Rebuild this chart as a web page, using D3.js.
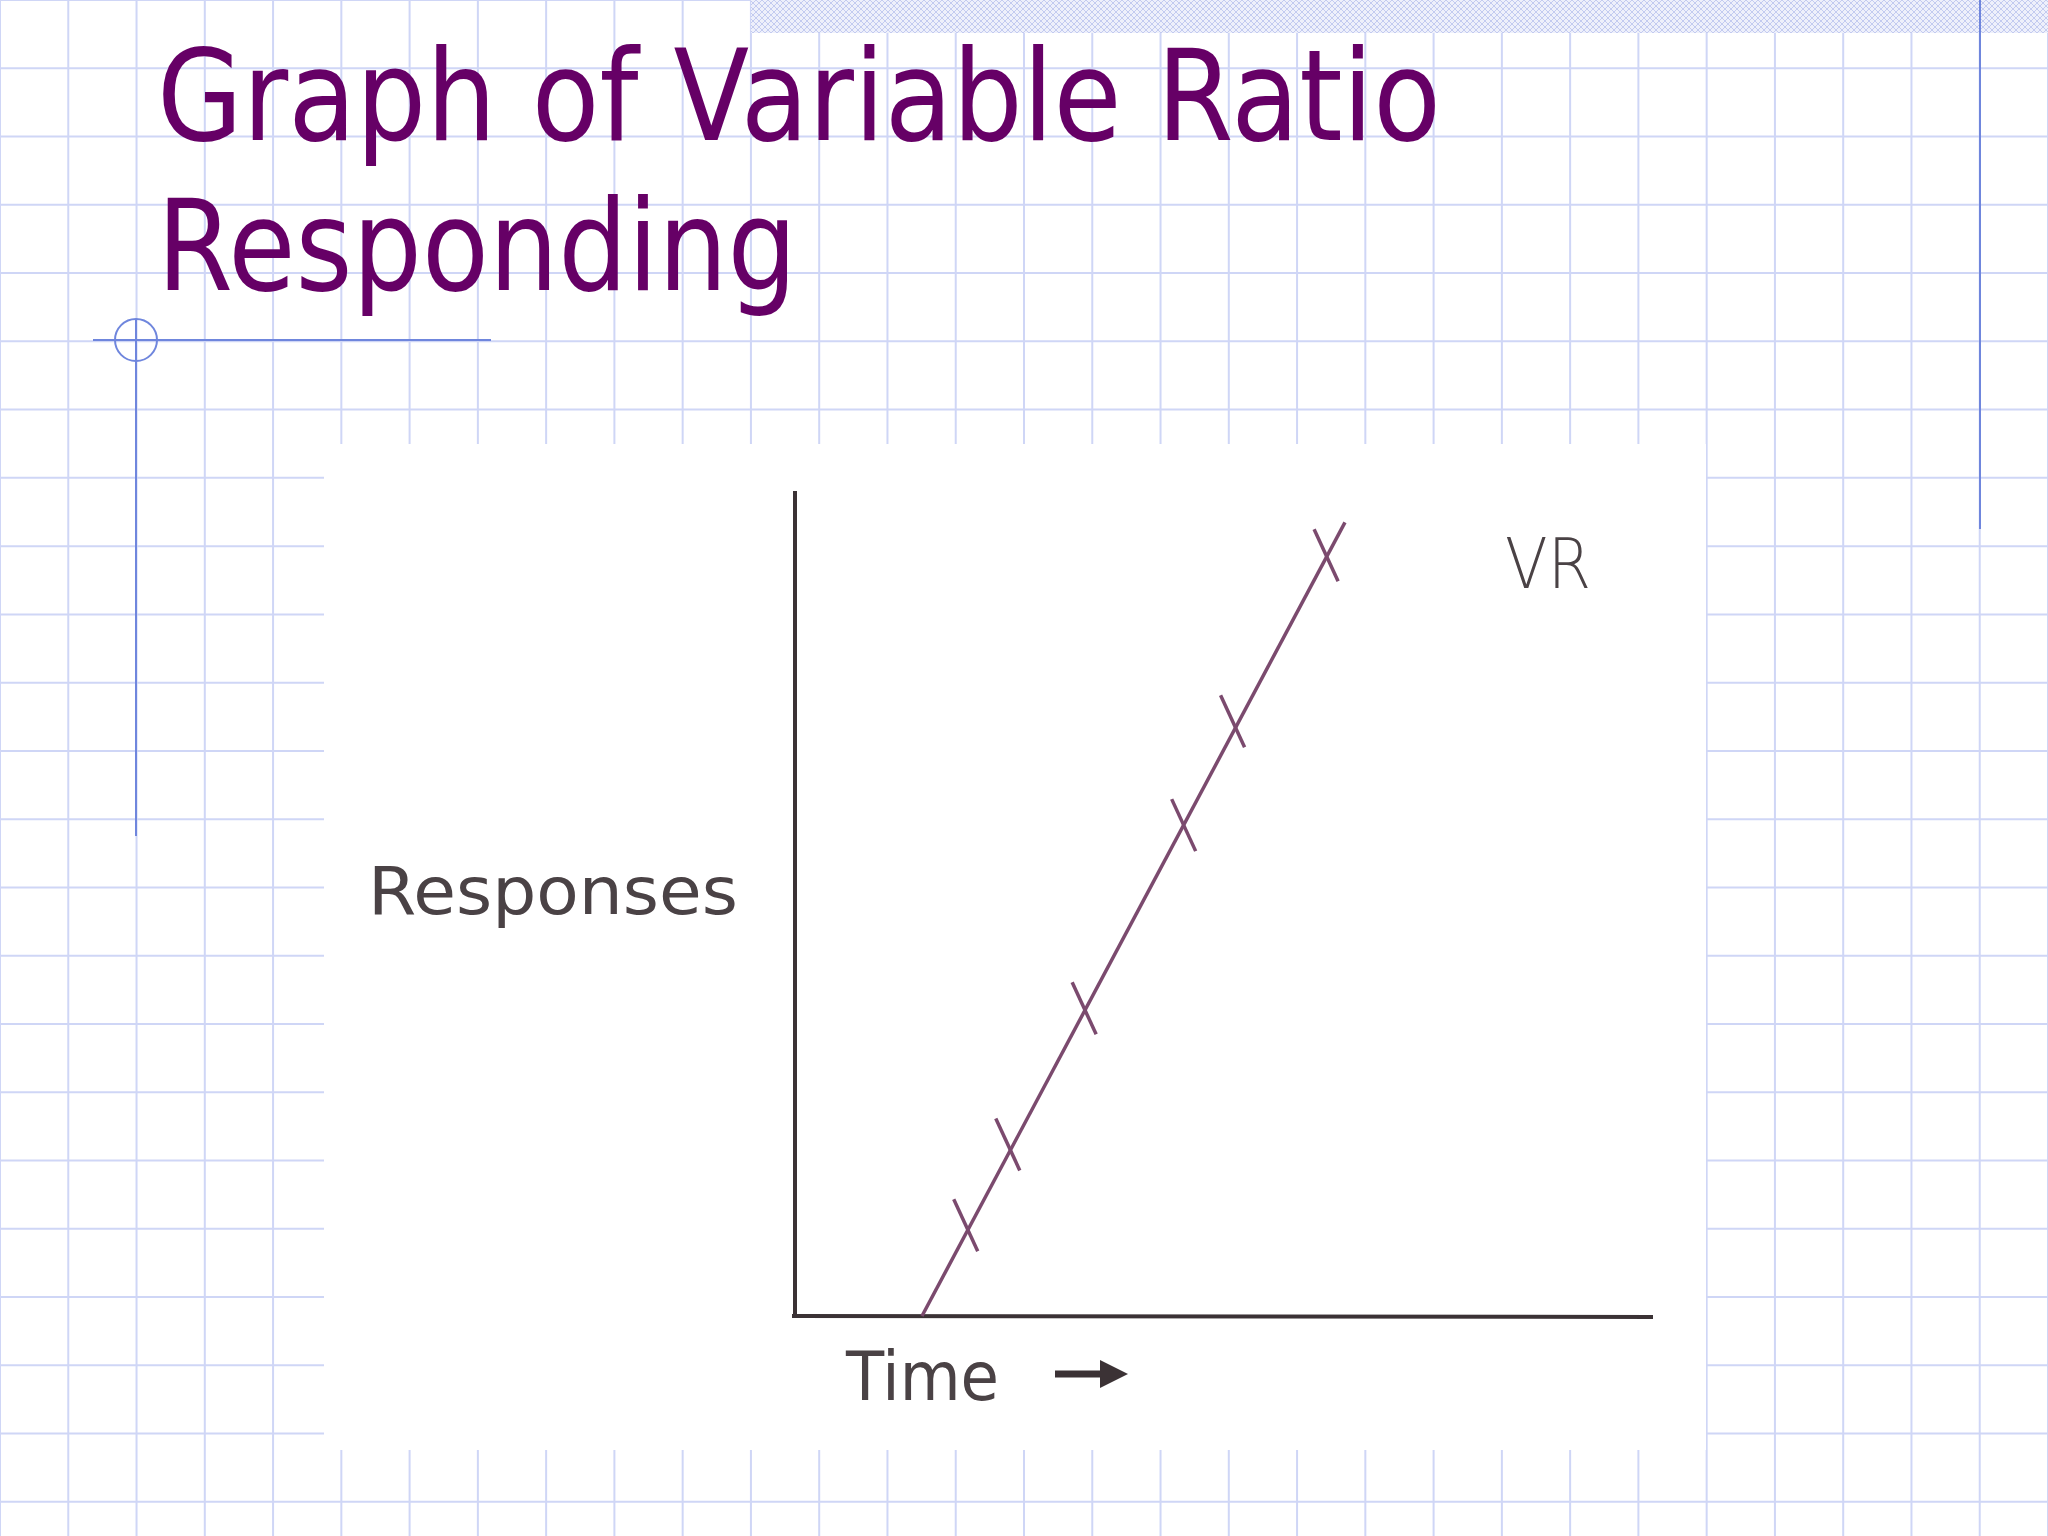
<!DOCTYPE html>
<html><head><meta charset="utf-8">
<script src="https://cdn.jsdelivr.net/npm/d3@7"></script>
<style>body{margin:0;background:#fff}svg{display:block}</style>
</head><body>
<script>
const titleLines = ["Graph of Variable Ratio", "Responding"];
const lineStart = [14.8, 0];
const lineEnd = [64.1, 96.2];
const markX = [19.9, 24.8, 33.7, 45.3, 51.0, 61.9];
const markY = [11.0, 20.8, 37.3, 59.5, 72.1, 92.2];
const yLabel = "Responses", xLabel = "Time", seriesLabel = "VR";

const W = 2048, H = 1536;
const svg = d3.select("body").append("svg").attr("width", W).attr("height", H);
const defs = svg.append("defs");
const pat = defs.append("pattern").attr("id","hatch").attr("width",6).attr("height",6).attr("patternUnits","userSpaceOnUse");
pat.append("rect").attr("width",6).attr("height",6).attr("fill","#eef0fb");
pat.append("path").attr("d","M0,0L6,6M6,0L0,6").attr("stroke","#b8c2ee").attr("stroke-width",0.8);

// background grid
const g = 2048/30;
for (let i = 0; i <= 30; i++) svg.append("line").attr("x1", i*g).attr("x2", i*g).attr("y1",0).attr("y2",H).attr("stroke","#cfd6f6").attr("stroke-width",2);
for (let j = 0; j <= 23; j++) svg.append("line").attr("y1", j*g).attr("y2", j*g).attr("x1",0).attr("x2",W).attr("stroke","#cfd6f6").attr("stroke-width",2);
svg.append("rect").attr("x",751).attr("y",0).attr("width",W-751).attr("height",33).attr("fill","url(#hatch)");
svg.append("line").attr("x1",1980).attr("x2",1980).attr("y1",0).attr("y2",529).attr("stroke","#6f86dd").attr("stroke-width",2);
// bullet decoration
svg.append("line").attr("x1",93).attr("x2",491).attr("y1",340).attr("y2",340).attr("stroke","#6f86dd").attr("stroke-width",2);
svg.append("line").attr("x1",136).attr("x2",136).attr("y1",320).attr("y2",836).attr("stroke","#6f86dd").attr("stroke-width",2);
svg.append("circle").attr("cx",136).attr("cy",340).attr("r",21).attr("fill","none").attr("stroke","#6f86dd").attr("stroke-width",2);

// title
titleLines.forEach((t,i)=>{
  svg.append("text").attr("x",157).attr("y",[140,290][i]).text(t)
    .attr("font-family","DejaVu Sans").attr("font-size",126).attr("fill","#660066")
    .attr("textLength", i===0?1284:640).attr("lengthAdjust","spacingAndGlyphs");
});

// white panel
svg.append("rect").attr("x",324).attr("y",444).attr("width",1382).attr("height",1006).attr("fill","#fff");

const x = d3.scaleLinear().domain([0,100]).range([795,1653]);
const y = d3.scaleLinear().domain([0,100]).range([1316,491]);
const ink = "#3b3235";
svg.append("line").attr("x1",x(0)).attr("x2",x(0)).attr("y1",y(0)).attr("y2",y(100)).attr("stroke",ink).attr("stroke-width",4);
svg.append("line").attr("x1",x(0)-3).attr("x2",x(100)).attr("y1",y(0)).attr("y2",y(0)+1).attr("stroke",ink).attr("stroke-width",4);

const lc = "#7b4a6e";
svg.append("line").attr("x1",x(lineStart[0])).attr("y1",y(lineStart[1])).attr("x2",x(lineEnd[0])).attr("y2",y(lineEnd[1])).attr("stroke",lc).attr("stroke-width",3.5);
// cross marks (stroke crossing the line)
markX.forEach((mx,i)=>{
  const cx = x(mx), cy = y(markY[i]);
  svg.append("line").attr("x1",cx-12).attr("y1",cy-26).attr("x2",cx+12).attr("y2",cy+26).attr("stroke",lc).attr("stroke-width",3.5);
});

svg.append("text").attr("x",368).attr("y",914).text(yLabel).attr("font-family","DejaVu Sans").attr("font-size",66)
  .attr("fill","#4a4245").attr("textLength",370).attr("lengthAdjust","spacingAndGlyphs");
svg.append("text").attr("x",846).attr("y",1400).text(xLabel).attr("font-family","DejaVu Sans").attr("font-size",68)
  .attr("fill","#4a4245").attr("textLength",153).attr("lengthAdjust","spacingAndGlyphs");
svg.append("line").attr("x1",1055).attr("x2",1116).attr("y1",1374).attr("y2",1374).attr("stroke","#3b3235").attr("stroke-width",7);
svg.append("path").attr("d","M1100,1360L1128,1374L1100,1388Z").attr("fill","#3b3235");
svg.append("text").attr("x",1505).attr("y",588).text(seriesLabel).attr("font-family","DejaVu Sans").attr("font-size",70)
  .attr("font-weight",300).attr("fill","#4a4245").attr("textLength",86).attr("lengthAdjust","spacingAndGlyphs");
</script>
</body></html>
